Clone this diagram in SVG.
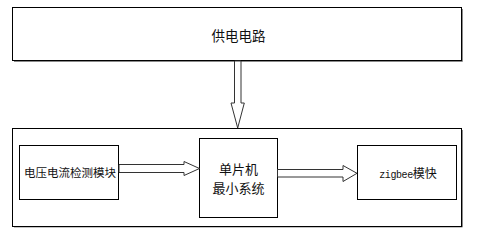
<svg xmlns="http://www.w3.org/2000/svg" width="477" height="238" viewBox="0 0 477 238">
<style>
.box{fill:#fff;stroke:#000;stroke-width:1}
.sh{fill:none;stroke:#8a8a8a;stroke-width:1}
.arr{fill:#fff;stroke:#333;stroke-width:1;stroke-linejoin:miter}
.t{font-family:"Noto Sans CJK SC","Liberation Sans",sans-serif;fill:#111;text-anchor:middle}
.m{font-family:"Liberation Mono","Noto Sans CJK SC",monospace}
</style>
<rect width="477" height="238" fill="#fff"/>
<g id="power">
<polyline class="sh" points="462.5,9 462.5,61.5 14,61.5"/>
<rect class="box" x="12.5" y="7.5" width="449" height="53"/>
<text class="t" x="238.5" y="41" font-size="13.5">供电电路</text>
</g>
<g id="system">
<polyline class="sh" points="462.5,130 462.5,227 14,227"/>
<rect class="box" x="12.5" y="128.5" width="449" height="98"/>
</g>
<g id="sensor">
<rect class="box" x="19.5" y="145.5" width="99" height="54"/>
<text class="t" x="70" y="177" font-size="11.5">电压电流检测模块</text>
</g>
<g id="mcu">
<rect class="box" x="199.5" y="138.5" width="78" height="79"/>
<text class="t" x="238.5" y="174" font-size="13">单片机</text>
<text class="t" x="238.5" y="193" font-size="13">最小系统</text>
</g>
<g id="zigbee">
<rect class="box" x="357.5" y="145.5" width="99" height="54"/>
<text class="t" x="408" y="177.5" font-size="12"><tspan class="m" font-size="10" letter-spacing="-0.4">zigbee</tspan>模快</text>
</g>
<g id="connectors">
<polygon class="arr" points="234.5,61 241,61 241,103 244.3,103 237.7,128 231,103 234.5,103"/>
<polygon class="arr" points="119,164.5 184,164.5 184,161.5 199.5,168.5 184,175.5 184,172.5 119,172.5"/>
<polygon class="arr" points="277.5,169.5 343,169.5 343,165.5 357,173.3 343,181.5 343,177 277.5,177"/>
</g>
</svg>
